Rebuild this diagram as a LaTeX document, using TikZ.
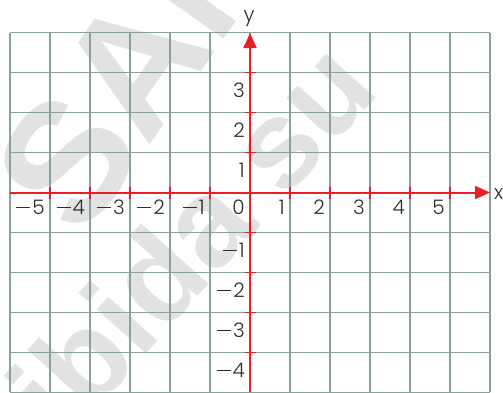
\documentclass[tikz,border=0pt]{standalone}
\usepackage{fontspec}
\setmainfont{Poppins}[UprightFont=* Light]
\newfontfamily\wmfont{Liberation Sans}
\usetikzlibrary{arrows.meta}
\definecolor{gridc}{RGB}{138,160,152}
\definecolor{axisred}{RGB}{232,30,40}
\definecolor{labc}{RGB}{45,45,45}
\definecolor{wm}{RGB}{226,226,226}
\newcommand\mminus{\raisebox{6pt}{\rule{14pt}{1.4pt}}\hspace{2pt}}
\begin{document}
\begin{tikzpicture}[x=1pt,y=-1pt,
  gridline/.style={draw=gridc,line width=1.4pt},
  axisline/.style={draw=axisred,line width=2pt},
  tickmark/.style={draw=axisred,line width=1.8pt},
  numlab/.style={font=\fontsize{20}{20}\selectfont,text=labc,inner sep=0pt},
  wmtext/.style={text=wm,inner sep=0pt,font=\wmfont\bfseries\fontsize{170}{170}\selectfont},
  wmtextb/.style={text=wm,inner sep=0pt,font=\wmfont\bfseries\fontsize{125}{125}\selectfont}]
\useasboundingbox (0,0) rectangle (503,392);
% watermark
\node[wmtext,rotate=55,anchor=base west] (wm1) at (82,242) {SANTILLANA};
\node[wmtextb,rotate=48,anchor=base east] (wm2) at (382,92) {prohibida su};
% grid
\foreach \i in {0,...,12} \draw[gridline] (10+40*\i,32.5) -- (10+40*\i,392);
\foreach \j in {0,...,9} \draw[gridline] (10,32.5+40*\j) -- (490,32.5+40*\j);
% axes
\coordinate (xs) at (10,192.5);
\coordinate (xe) at (490,192.5);
\coordinate (ys) at (250,392);
\coordinate (ye) at (250,33);
\draw[axisline,-{Triangle[length=15pt,width=13pt]}] (xs) -- (xe);
\draw[axisline,-{Triangle[length=15pt,width=13pt]}] (ys) -- (ye);
% ticks
\foreach \x in {50,90,130,170,210,290,330,370,410,450} \draw[tickmark] (\x,186.5) -- (\x,198.5);
\foreach \y in {72.5,112.5,152.5,232.5,272.5,312.5,352.5} \draw[tickmark] (244.5,\y) -- (256,\y);
% x labels
\node[numlab,anchor=base east] (xm5) at (45,214) {\mminus 5};
\node[numlab,anchor=base east] (xm4) at (85,214) {\mminus 4};
\node[numlab,anchor=base east] (xm3) at (125,214) {\mminus 3};
\node[numlab,anchor=base east] (xm2) at (165,214) {\mminus 2};
\node[numlab,anchor=base east] (xm1) at (205,214) {\mminus 1};
\node[numlab,anchor=base east] (x0) at (245,214) {0};
\node[numlab,anchor=base east] (xp1) at (285,214) {1};
\node[numlab,anchor=base east] (xp2) at (325,214) {2};
\node[numlab,anchor=base east] (xp3) at (365,214) {3};
\node[numlab,anchor=base east] (xp4) at (405,214) {4};
\node[numlab,anchor=base east] (xp5) at (445,214) {5};
% y labels
\node[numlab,anchor=base east] (yp3) at (245,97) {3};
\node[numlab,anchor=base east] (yp2) at (245,137) {2};
\node[numlab,anchor=base east] (yp1) at (245,177) {1};
\node[numlab,anchor=base east] (ym1) at (245,257) {\mminus 1};
\node[numlab,anchor=base east] (ym2) at (245,297) {\mminus 2};
\node[numlab,anchor=base east] (ym3) at (245,337) {\mminus 3};
\node[numlab,anchor=base east] (ym4) at (245,377) {\mminus 4};
% axis names
\node[numlab,anchor=base west] (xn) at (494,199) {x};
\node[numlab,anchor=base] (yn) at (249,21) {y};
\end{tikzpicture}
\end{document}
